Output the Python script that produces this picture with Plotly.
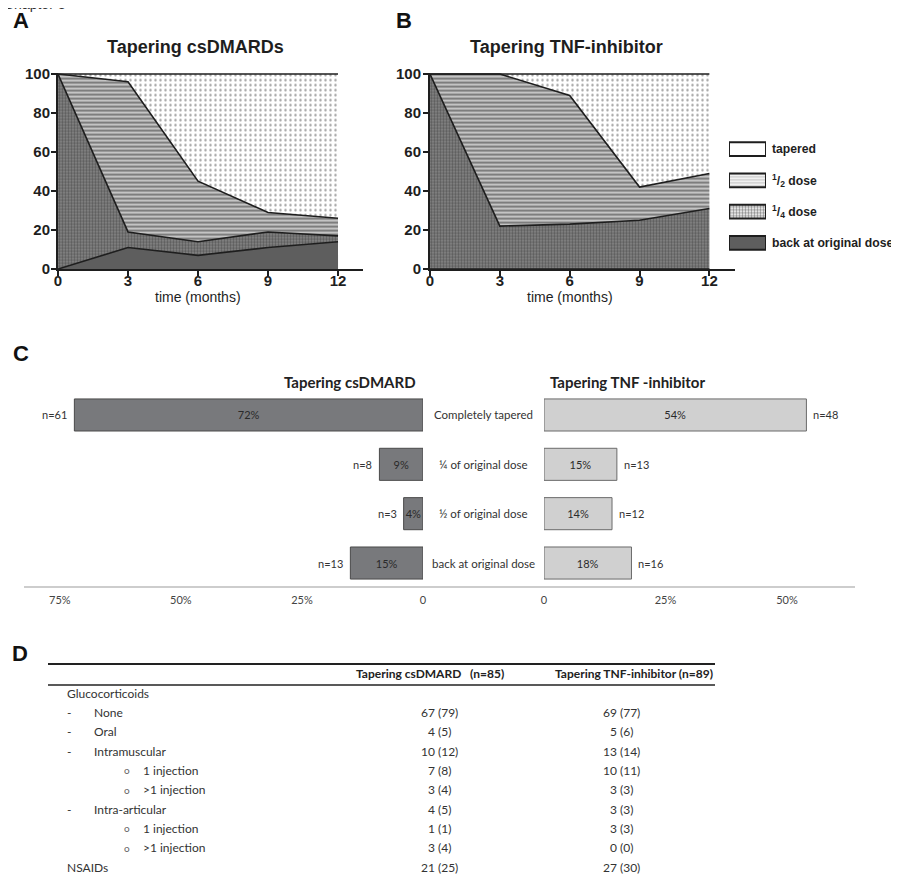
import plotly.graph_objects as go

W, H = 899, 877
OFF = 8  # page body margin of the browser
FW, FH = W - OFF, H - OFF


def fx(p):
    return (p - OFF) / FW


def fy(p):
    return 1 - (p - OFF) / FH


# ---------------- data ----------------
months = [0, 3, 6, 9, 12]
month_ticks = [0, 3, 6, 9, 12]
pct_ticks = [0, 20, 40, 60, 80, 100]

# Panel A: Tapering csDMARDs (percent of patients per state, stacked)
a_back = [0, 11, 7, 11, 14]
a_quarter = [100, 8, 7, 8, 3]
a_half = [0, 77, 31, 10, 9]
a_tapered = [0, 4, 55, 71, 74]

# Panel B: Tapering TNF-inhibitor
b_back = [0, 0, 0, 0, 0]
b_quarter = [100, 22, 23, 25, 31]
b_half = [0, 78, 66, 17, 18]
b_tapered = [0, 0, 11, 58, 51]

legend_labels = ["tapered", "<sup>1</sup>/<sub>2</sub> dose",
                 "<sup>1</sup>/<sub>4</sub> dose", "back at original dose"]
legend_swatch = [1, 1, 1, 1]

# Panel C
c_categories = ["Completely tapered", "\u00bc of original dose",
                "\u00bd of original dose", "back at original dose"]
c_csdmard_pct = [72, 9, 4, 15]
c_csdmard_n = [61, 8, 3, 13]
c_tnf_pct = [54, 15, 14, 18]
c_tnf_n = [48, 13, 12, 16]
c_left_ticks = [75, 50, 25, 0]
c_left_ticktext = ["75%", "50%", "25%", "0"]
c_right_ticks = [0, 25, 50]
c_right_ticktext = ["0", "25%", "50%"]

# Panel D table
d_header = ["Tapering csDMARD\u00a0\u00a0\u00a0(n=85)", "Tapering TNF-inhibitor (n=89)"]
d_rows = ["Glucocorticoids", "None", "Oral", "Intramuscular", "1 injection",
          ">1 injection", "Intra-articular", "1 injection", ">1 injection", "NSAIDs"]
d_level = [0, 1, 1, 1, 2, 2, 1, 2, 2, 0]
d_csdmard = ["", "67 (79)", "4 (5)", "10 (12)", "7 (8)", "3 (4)", "4 (5)", "1 (1)", "3 (4)", "21 (25)"]
d_tnf = ["", "69 (77)", "5 (6)", "13 (14)", "10 (11)", "3 (3)", "3 (3)", "3 (3)", "0 (0)", "27 (30)"]

# ---------------- styles ----------------
ARIAL = "Liberation Sans, Arial, sans-serif"
CAL = "Lato, Carlito, Calibri, sans-serif"
INK = "#1e1e1e"

layer_style = {
    "back": dict(fillcolor="#5e5e5e"),
    "quarter": dict(fillcolor="#7a7a7a",
                    fillpattern=dict(shape=".", fgcolor="#5a5a5a", bgcolor="#898989",
                                     size=3, solidity=0.5, fillmode="replace")),
    "half": dict(fillcolor="#b0b0b0",
                 fillpattern=dict(shape="-", fgcolor="#7e7e7e", bgcolor="#c4c4c4",
                                  size=4, solidity=0.5, fillmode="replace")),
    "tapered": dict(fillcolor="white",
                    fillpattern=dict(shape=".", fgcolor="#a0a0a0", bgcolor="white",
                                     size=5, solidity=0.18, fillmode="replace")),
}

fig = go.Figure()

for name, vals_a, vals_b in [("back", a_back, b_back), ("quarter", a_quarter, b_quarter),
                             ("half", a_half, b_half), ("tapered", a_tapered, b_tapered)]:
    for vals, xa, ya, grp in [(vals_a, "x", "y", "A"), (vals_b, "x2", "y2", "B")]:
        fig.add_trace(go.Scatter(
            x=months, y=vals, xaxis=xa, yaxis=ya, stackgroup=grp, mode="lines",
            line=dict(color=INK, width=1.6), hoverinfo="skip", showlegend=False,
            **layer_style[name]))

# legend swatches (as bars)
fig.add_trace(go.Bar(
    x=legend_swatch, y=legend_labels, orientation="h", xaxis="x3", yaxis="y3", width=0.44,
    marker=dict(color=["white", "#c4c4c4", "#898989", "#5e5e5e"],
                line=dict(color=INK, width=2),
                pattern=dict(shape=[".", "-", ".", ""],
                             fgcolor=["#a0a0a0", "#7e7e7e", "#5a5a5a", "#5e5e5e"],
                             bgcolor=["white", "#c4c4c4", "#898989", "#5e5e5e"],
                             size=[4, 3, 3, 3], solidity=[0.25, 0.5, 0.5, 0.5],
                             fillmode="replace")),
    hoverinfo="skip", showlegend=False))

# Panel C bars
fig.add_trace(go.Bar(
    x=c_csdmard_pct, y=c_categories, orientation="h", xaxis="x4", yaxis="y4", width=0.65,
    marker=dict(color="#78797c", line=dict(color="#4a4a4a", width=1)),
    text=[f"{v}%" for v in c_csdmard_pct], textposition="inside", insidetextanchor="middle",
    constraintext="none", textangle=0, textfont=dict(family=CAL, size=11, color="#2a2a2a"),
    hoverinfo="skip", showlegend=False))
fig.add_trace(go.Bar(
    x=c_tnf_pct, y=c_categories, orientation="h", xaxis="x5", yaxis="y5", width=0.65,
    marker=dict(color="#d0d0d0", line=dict(color="#6a6a6a", width=1)),
    text=[f"{v}%" for v in c_tnf_pct], textposition="inside", insidetextanchor="middle",
    constraintext="none", textangle=0, textfont=dict(family=CAL, size=11, color="#2a2a2a"),
    hoverinfo="skip", showlegend=False))

ann = []
shapes = []


def pann(text, px, py, xanchor="center", font=None, **kw):
    d = dict(text=text, xref="paper", yref="paper", x=fx(px), y=fy(py), xanchor=xanchor,
             yanchor="middle", showarrow=False, font=font)
    d.update(kw)
    return d


# panel letters / header text
ann.append(dict(text="Chapter 3", xref="paper", yref="paper", x=fx(2), y=fy(14), xanchor="left",
                yanchor="bottom", showarrow=False, font=dict(family=ARIAL, size=14, color="#333")))
for letter, px, py in [("A", 21, 20), ("B", 404, 20), ("C", 21, 353), ("D", 20, 653)]:
    ann.append(pann(f"<b>{letter}</b>", px, py, font=dict(family=ARIAL, size=22, color="#111")))
ann.append(pann("<b>Tapering csDMARDs</b>", 195, 47, font=dict(family=ARIAL, size=18, color=INK)))
ann.append(pann("<b>Tapering TNF-inhibitor</b>", 566, 47, font=dict(family=ARIAL, size=18, color=INK)))
for xr in ["x", "x2"]:
    ann.append(dict(text="time (months)", xref=xr, yref="paper", x=6, y=fy(297), xanchor="center",
                    yanchor="middle", showarrow=False, font=dict(family=ARIAL, size=14, color=INK)))

# Panel C labels
ann.append(pann("<b>Tapering csDMARD</b>", 418, 382, xanchor="right",
                font=dict(family=CAL, size=15, color="#222")))
ann.append(pann("<b>Tapering TNF -inhibitor</b>", 548, 382, xanchor="left",
                font=dict(family=CAL, size=15, color="#222")))
for cat, v, n in zip(c_categories, c_csdmard_pct, c_csdmard_n):
    ann.append(dict(text=f"n={n}", xref="x4", yref="y4", x=v, y=cat, xanchor="right", xshift=-5,
                    yanchor="middle", showarrow=False, font=dict(family=CAL, size=11, color="#333")))
for cat, v, n in zip(c_categories, c_tnf_pct, c_tnf_n):
    ann.append(dict(text=f"n={n}", xref="x5", yref="y5", x=v, y=cat, xanchor="left", xshift=5,
                    yanchor="middle", showarrow=False, font=dict(family=CAL, size=11, color="#333")))
for cat in c_categories:
    ann.append(dict(text=cat, xref="paper", yref="y4", x=fx(483), y=cat, xanchor="center",
                    yanchor="middle", showarrow=False, font=dict(family=CAL, size=11.5, color="#333")))
shapes.append(dict(type="line", xref="paper", yref="paper", x0=fx(24), x1=fx(855),
                   y0=fy(587), y1=fy(587), line=dict(color="#bcbcbc", width=1.5)))

# Panel D table
shapes.append(dict(type="line", xref="paper", yref="paper", x0=fx(48), x1=fx(715),
                   y0=fy(664), y1=fy(664), line=dict(color="#222", width=2)))
shapes.append(dict(type="line", xref="paper", yref="paper", x0=fx(48), x1=fx(715),
                   y0=fy(685), y1=fy(685), line=dict(color="#222", width=1.5)))
ann.append(pann(f"<b>{d_header[0]}</b>", 506, 673, xanchor="right",
                font=dict(family=CAL, size=12, color="#222")))
ann.append(pann(f"<b>{d_header[1]}</b>", 715, 673, xanchor="right",
                font=dict(family=CAL, size=12, color="#222")))
tfont = dict(family=CAL, size=12, color="#333")
for i, (lab, lvl, c1, c2) in enumerate(zip(d_rows, d_level, d_csdmard, d_tnf)):
    py = 693 + i * 19.35
    if lvl == 0:
        ann.append(pann(lab, 65, py, xanchor="left", font=tfont))
    elif lvl == 1:
        ann.append(pann("-", 65, py, xanchor="left", font=tfont))
        ann.append(pann(lab, 92, py, xanchor="left", font=tfont))
    else:
        ann.append(pann("o", 122, py, xanchor="left", font=dict(family=CAL, size=10, color="#666")))
        ann.append(pann(lab, 141, py, xanchor="left", font=tfont))
    if c1:
        ann.append(pann(c1, 439, py, font=tfont))
    if c2:
        ann.append(pann(c2, 621, py, font=tfont))

tick_font = dict(family=ARIAL, size=15, color=INK, weight="bold")
ax_common = dict(showgrid=False, zeroline=False, showline=True, linecolor=INK, linewidth=2,
                 ticks="outside", ticklen=5, tickwidth=2, tickcolor=INK, tickfont=tick_font,
                 fixedrange=True, automargin=False)
ydom = [fy(269), fy(72.6)]

fig.update_layout(
    width=FW, height=FH, margin=dict(l=0, r=0, t=0, b=0, autoexpand=False),
    paper_bgcolor="white", plot_bgcolor="rgba(0,0,0,0)",
    showlegend=False, barmode="overlay",
    xaxis=dict(domain=[fx(58), fx(363)], range=[0, 13.07], tickvals=month_ticks, anchor="y",
               ticklabelstandoff=-8, **ax_common),
    yaxis=dict(domain=ydom, range=[0, 100.7], tickvals=pct_ticks, anchor="x",
               ticklabelstandoff=-2, **ax_common),
    xaxis2=dict(domain=[fx(430), fx(735)], range=[0, 13.1], tickvals=month_ticks, anchor="y2",
                ticklabelstandoff=-8, **ax_common),
    yaxis2=dict(domain=ydom, range=[0, 100.7], tickvals=pct_ticks, anchor="x2",
                ticklabelstandoff=-1, **ax_common),
    xaxis3=dict(domain=[fx(729), fx(766)], range=[0, 1], visible=False, anchor="y3", fixedrange=True,
                automargin=False),
    yaxis3=dict(domain=[fy(258.6), fy(133.4)], anchor="x3", side="right", categoryorder="array",
                categoryarray=legend_labels, autorange="reversed", showgrid=False, zeroline=False,
                showline=False, ticks="", ticklabelstandoff=5, automargin=False,
                tickfont=dict(family=ARIAL, size=12.2, color=INK, weight="bold"), fixedrange=True),
    xaxis4=dict(domain=[fx(24), fx(423)], range=[82.4, 0], tickvals=c_left_ticks, ticktext=c_left_ticktext,
                anchor="y4", showgrid=False, zeroline=False, showline=False, ticks="", ticklabelstandoff=4,
                automargin=False, tickfont=dict(family=CAL, size=11, color="#444"), fixedrange=True),
    yaxis4=dict(domain=[fy(587.7), fy(390.3)], anchor="x4", categoryorder="array", categoryarray=c_categories,
                autorange="reversed", visible=False, fixedrange=True, automargin=False),
    xaxis5=dict(domain=[fx(544), fx(855)], range=[0, 64], tickvals=c_right_ticks, ticktext=c_right_ticktext,
                anchor="y5", showgrid=False, zeroline=False, showline=False, ticks="", ticklabelstandoff=4,
                automargin=False, tickfont=dict(family=CAL, size=11, color="#444"), fixedrange=True),
    yaxis5=dict(domain=[fy(587.7), fy(390.3)], anchor="x5", categoryorder="array", categoryarray=c_categories,
                autorange="reversed", visible=False, fixedrange=True, automargin=False),
    annotations=ann, shapes=shapes,
)

fig.write_html("out.html")
